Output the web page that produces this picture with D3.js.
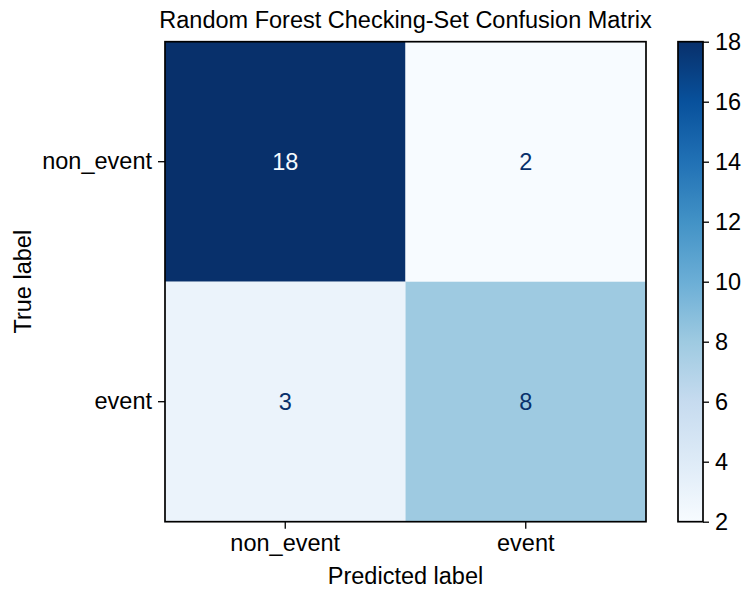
<!DOCTYPE html>
<html>
<head>
<meta charset="utf-8">
<script src="https://cdn.jsdelivr.net/npm/d3@7"></script>
<style>
  body { margin: 0; background: #fff; }
  svg { font-family: "Liberation Sans", Arial, sans-serif; }
  .axis path.domain { stroke: none; }
  .axis line { stroke: #000; stroke-width: 1.3; }
  .axis text { font-size: 23.5px; fill: #000; }
</style>
</head>
<body>
<script>
// confusion matrix values (rows = true label, cols = predicted label)
var classes = ["non_event", "event"];
var matrix = [[18, 2], [3, 8]];
var cbTicks = [2, 4, 6, 8, 10, 12, 14, 16, 18];
var title = "Random Forest Checking-Set Confusion Matrix";

// matplotlib "Blues"
var blues = ["#f7fbff", "#deebf7", "#c6dbef", "#9ecae1", "#6baed6", "#4292c6", "#2171b5", "#08519c", "#08306b"];

var width = 753, height = 601;
var plot = { left: 165, right: 646, top: 41.7, bottom: 521.7 };
var cb = { left: 678, right: 703 };
var fs = "23.5px";

var vmin = d3.min(matrix, function (r) { return d3.min(r); }),
  vmax = d3.max(matrix, function (r) { return d3.max(r); });

var color = d3.scaleLinear()
  .domain(blues.map(function (d, i) { return vmin + (vmax - vmin) * i / (blues.length - 1); }))
  .range(blues);

var x = d3.scaleBand().domain(classes).range([plot.left, plot.right]);
var y = d3.scaleBand().domain(classes).range([plot.top, plot.bottom]);
var cbY = d3.scaleLinear().domain([vmin, vmax]).range([plot.bottom, plot.top]);

var svg = d3.select("body").append("svg")
  .attr("width", width)
  .attr("height", height);

var cells = [];
matrix.forEach(function (row, i) {
  row.forEach(function (v, j) {
    cells.push({ t: classes[i], p: classes[j], v: v });
  });
});

svg.append("g").selectAll("rect")
  .data(cells)
  .enter().append("rect")
  .attr("x", function (d) { return x(d.p); })
  .attr("y", function (d) { return y(d.t); })
  .attr("width", x.bandwidth())
  .attr("height", y.bandwidth())
  .attr("fill", function (d) { return color(d.v); });

var thresh = (vmin + vmax) / 2;
svg.append("g").selectAll("text")
  .data(cells)
  .enter().append("text")
  .attr("x", function (d) { return x(d.p) + x.bandwidth() / 2; })
  .attr("y", function (d) { return y(d.t) + y.bandwidth() / 2; })
  .attr("dy", "0.36em")
  .attr("text-anchor", "middle")
  .style("font-size", fs)
  .attr("fill", function (d) { return d.v > thresh ? blues[0] : blues[blues.length - 1]; })
  .text(function (d) { return d.v; });

svg.append("g")
  .attr("class", "axis")
  .attr("transform", "translate(" + plot.left + ",0)")
  .call(d3.axisLeft(y).tickSize(7).tickPadding(6));

svg.append("g")
  .attr("class", "axis")
  .attr("transform", "translate(0," + plot.bottom + ")")
  .call(d3.axisBottom(x).tickSize(7).tickPadding(6));

svg.append("rect")
  .attr("x", plot.left)
  .attr("y", plot.top)
  .attr("width", plot.right - plot.left)
  .attr("height", plot.bottom - plot.top)
  .attr("fill", "none")
  .attr("stroke", "#000")
  .attr("stroke-width", 1.7);

// colorbar
var grad = svg.append("defs").append("linearGradient")
  .attr("id", "cbgrad")
  .attr("x1", 0).attr("y1", 1).attr("x2", 0).attr("y2", 0);
grad.selectAll("stop")
  .data(blues)
  .enter().append("stop")
  .attr("offset", function (d, i) { return i / (blues.length - 1); })
  .attr("stop-color", function (d) { return d; });

svg.append("rect")
  .attr("x", cb.left)
  .attr("y", cbY(vmax))
  .attr("width", cb.right - cb.left)
  .attr("height", cbY(vmin) - cbY(vmax))
  .attr("fill", "url(#cbgrad)")
  .attr("stroke", "#000")
  .attr("stroke-width", 1.7);

svg.append("g")
  .attr("class", "axis")
  .attr("transform", "translate(" + cb.right + ",0)")
  .call(d3.axisRight(cbY).tickValues(cbTicks).tickSize(6).tickPadding(6));

svg.append("text")
  .attr("x", (plot.left + plot.right) / 2)
  .attr("y", 28)
  .attr("text-anchor", "middle")
  .style("font-size", fs)
  .text(title);

svg.append("text")
  .attr("x", (plot.left + plot.right) / 2)
  .attr("y", 584)
  .attr("text-anchor", "middle")
  .style("font-size", fs)
  .text("Predicted label");

svg.append("text")
  .attr("transform", "translate(31," + (plot.top + plot.bottom) / 2 + ") rotate(-90)")
  .attr("text-anchor", "middle")
  .style("font-size", fs)
  .text("True label");
</script>
</body>
</html>
